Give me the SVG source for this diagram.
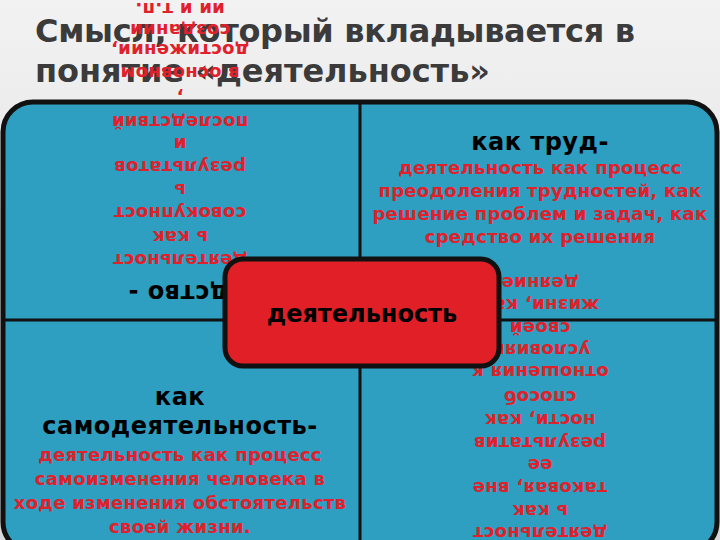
<svg xmlns="http://www.w3.org/2000/svg" width="720" height="540" viewBox="0 0 720 540">
<defs>
<linearGradient id="bg" x1="0" y1="0" x2="0" y2="1"><stop offset="0" stop-color="#f2f2f2"/><stop offset="1" stop-color="#d8d8d8"/></linearGradient>
<style>
.t{font-family:"DejaVu Sans",sans-serif;font-weight:bold;fill:#3b3b3b;font-size:32px}
.h{font-family:"DejaVu Sans",sans-serif;font-weight:bold;fill:#000;font-size:24px;text-anchor:middle;letter-spacing:0.5px}
.r{font-family:"DejaVu Sans",sans-serif;font-weight:bold;fill:#e0202a;font-size:18px;text-anchor:middle;letter-spacing:0.3px}
</style>
</defs>
<rect width="720" height="540" fill="url(#bg)"/>
<g id="title">
<text class="t" x="35" y="42" textLength="600">Смысл, который вкладывается в</text>
<text class="t" x="35" y="82" textLength="455">понятие «деятельность»</text>
</g>
<g id="panel">
<rect x="3" y="102" width="714" height="450" rx="30" fill="#2f9fc1" stroke="#111" stroke-width="5"/>
</g>
<g id="connectors">
<line x1="360" y1="102" x2="360" y2="540" stroke="#111" stroke-width="3"/>
<line x1="3" y1="320" x2="717" y2="320" stroke="#111" stroke-width="3"/>
</g>
<g id="q-tl">
<text class="h" style="text-anchor:end" transform="rotate(180 180 293)" x="232" y="301">как средство -</text>
<g class="r">
<text transform="rotate(180 180 260)" x="180" y="266">деятельност</text>
<text transform="rotate(180 180 237)" x="180" y="243">ь как</text>
<text transform="rotate(180 180 213)" x="180" y="219">совокупност</text>
<text transform="rotate(180 180 190)" x="180" y="196">ь</text>
<text transform="rotate(180 180 167)" x="180" y="173">результатов</text>
<text transform="rotate(180 180 144)" x="180" y="150">и</text>
<text transform="rotate(180 180 122)" x="180" y="128">последствий</text>
<text transform="rotate(180 180 98)" x="180" y="104">,</text>
<text transform="rotate(180 180 73)" x="180" y="79">в основном</text>
<text transform="rotate(180 180 50)" x="180" y="56">достижении,</text>
<text transform="rotate(180 180 30)" x="180" y="36">создании</text>
<text transform="rotate(180 180 9)" x="180" y="15">ии и т.п.</text>
</g>
</g>
<g id="q-tr">
<text class="h" x="540" y="150">как труд-</text>
<text class="r" x="540" y="174">деятельность как процесс</text>
<text class="r" x="540" y="197">преодоления трудностей, как</text>
<text class="r" x="540" y="220">решение проблем и задач, как</text>
<text class="r" x="540" y="243">средство их решения</text>
</g>
<g id="q-bl">
<text class="h" x="180" y="405">как</text>
<text class="h" x="180" y="434">самодеятельность-</text>
<text class="r" x="180" y="461">деятельность как процесс</text>
<text class="r" x="180" y="485">самоизменения человека в</text>
<text class="r" x="180" y="509">ходе изменения обстоятельств</text>
<text class="r" x="180" y="533">своей жизни.</text>
</g>
<g id="q-br" class="r">
<text transform="rotate(180 540 533)" x="540" y="539">деятельност</text>
<text transform="rotate(180 540 511)" x="540" y="517">ь как</text>
<text transform="rotate(180 540 488)" x="540" y="494">таковая, вне</text>
<text transform="rotate(180 540 465)" x="540" y="471">ее</text>
<text transform="rotate(180 540 443)" x="540" y="449">результатив</text>
<text transform="rotate(180 540 420)" x="540" y="426">ности, как</text>
<text transform="rotate(180 540 397)" x="540" y="403">способ</text>
<text transform="rotate(180 540 372)" x="540" y="378">отношения к</text>
<text transform="rotate(180 540 350)" x="540" y="356">условиям</text>
<text transform="rotate(180 540 328)" x="540" y="334">своей</text>
<text transform="rotate(180 540 305)" x="540" y="311">жизни, как</text>
<text transform="rotate(180 540 283)" x="540" y="289">деяние</text>
</g>
<g id="center">
<rect x="225" y="259" width="274" height="107" rx="18" fill="#e01f26" stroke="#111" stroke-width="5"/>
<text x="362" y="322" font-family="DejaVu Sans, sans-serif" font-weight="bold" font-size="24" text-anchor="middle" fill="#000">деятельность</text>
</g>
</svg>
